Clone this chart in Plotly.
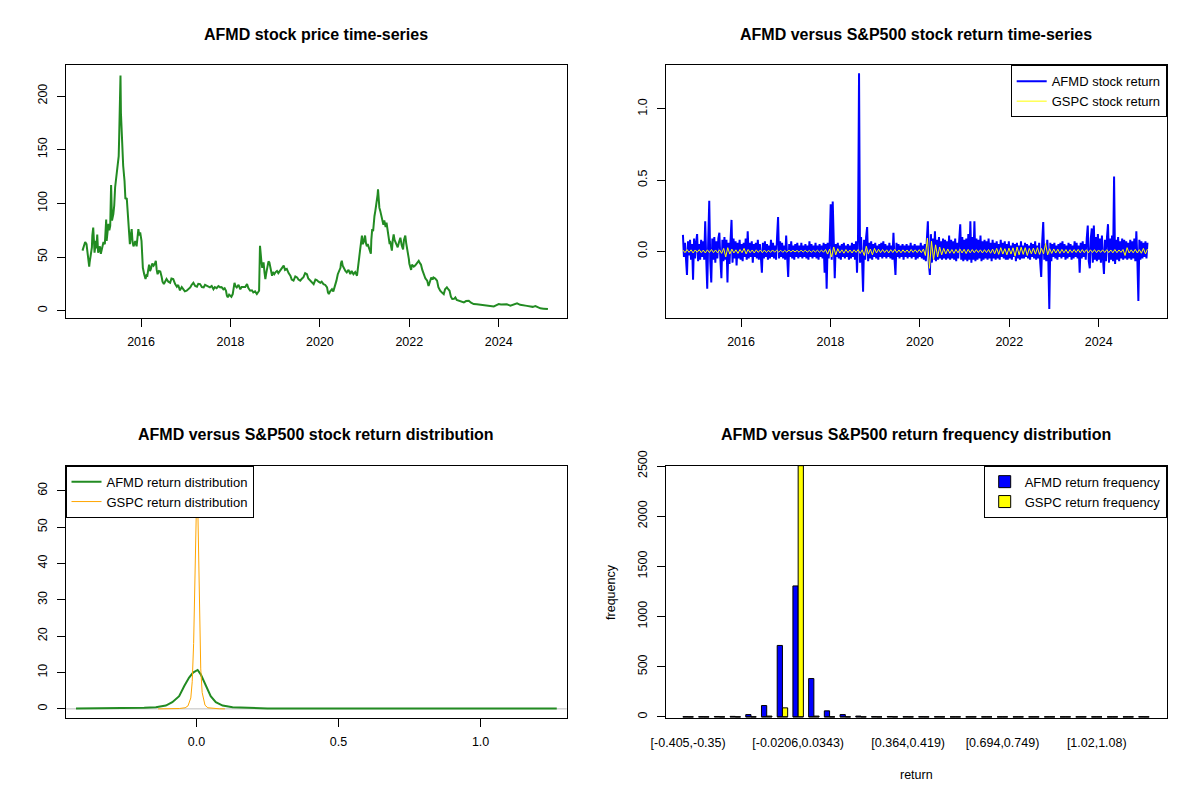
"""
AFMD vs S&P500 dashboard: price, returns, densities and return histogram.
"""
import numpy as np
import plotly.graph_objects as go

# the page keeps the browser's 8px body margin, so the figure is 16px smaller
PAGE_W, PAGE_H, EDGE = 1200, 800, 8
W, H = PAGE_W - 2 * EDGE, PAGE_H - 2 * EDGE
FONT = "Liberation Sans, Arial, sans-serif"

# ---- AFMD closing price (decimal year, USD) ----
price_year = [
    2014.69, 2014.72, 2014.75, 2014.78, 2014.80, 2014.82, 2014.84, 2014.85, 2014.87, 2014.90,
    2014.91, 2014.93, 2014.96, 2014.99, 2015.00, 2015.02, 2015.04, 2015.06, 2015.08, 2015.10,
    2015.12, 2015.14, 2015.16, 2015.19, 2015.22, 2015.23, 2015.25, 2015.27, 2015.29, 2015.31,
    2015.33, 2015.35, 2015.38, 2015.40, 2015.42, 2015.44, 2015.47, 2015.50, 2015.51, 2015.54,
    2015.55, 2015.57, 2015.60, 2015.63, 2015.65, 2015.68, 2015.70, 2015.72, 2015.73, 2015.75,
    2015.77, 2015.79, 2015.81, 2015.83, 2015.85, 2015.87, 2015.90, 2015.92, 2015.94, 2015.96,
    2015.98, 2016.01, 2016.03, 2016.04, 2016.07, 2016.09, 2016.10, 2016.12, 2016.14, 2016.16,
    2016.18, 2016.20, 2016.22, 2016.25, 2016.28, 2016.31, 2016.33, 2016.35, 2016.37, 2016.40,
    2016.43, 2016.46, 2016.48, 2016.51, 2016.54, 2016.57, 2016.61, 2016.65, 2016.68, 2016.72,
    2016.76, 2016.80, 2016.83, 2016.87, 2016.91, 2016.95, 2016.98, 2017.02, 2017.06, 2017.10,
    2017.13, 2017.17, 2017.21, 2017.25, 2017.28, 2017.32, 2017.36, 2017.40, 2017.43, 2017.47,
    2017.50, 2017.54, 2017.58, 2017.62, 2017.65, 2017.69, 2017.73, 2017.77, 2017.80, 2017.84,
    2017.87, 2017.90, 2017.92, 2017.94, 2017.97, 2017.99, 2018.02, 2018.05, 2018.07, 2018.09,
    2018.11, 2018.14, 2018.18, 2018.22, 2018.25, 2018.29, 2018.33, 2018.37, 2018.40, 2018.44,
    2018.48, 2018.51, 2018.55, 2018.59, 2018.62, 2018.64, 2018.66, 2018.67, 2018.69, 2018.71,
    2018.74, 2018.76, 2018.78, 2018.80, 2018.83, 2018.85, 2018.87, 2018.90, 2018.93, 2018.95,
    2018.98, 2019.01, 2019.04, 2019.07, 2019.11, 2019.15, 2019.19, 2019.22, 2019.26, 2019.30,
    2019.34, 2019.37, 2019.41, 2019.45, 2019.49, 2019.52, 2019.56, 2019.60, 2019.63, 2019.67,
    2019.71, 2019.74, 2019.78, 2019.82, 2019.86, 2019.90, 2019.93, 2019.97, 2020.01, 2020.04,
    2020.08, 2020.12, 2020.16, 2020.18, 2020.20, 2020.23, 2020.27, 2020.30, 2020.34, 2020.37,
    2020.40, 2020.43, 2020.46, 2020.47, 2020.49, 2020.51, 2020.54, 2020.57, 2020.60, 2020.64,
    2020.68, 2020.71, 2020.75, 2020.79, 2020.83, 2020.85, 2020.87, 2020.88, 2020.90, 2020.92,
    2020.94, 2020.96, 2020.98, 2021.00, 2021.01, 2021.03, 2021.05, 2021.07, 2021.09, 2021.12,
    2021.14, 2021.15, 2021.17, 2021.19, 2021.20, 2021.22, 2021.24, 2021.26, 2021.28, 2021.29,
    2021.30, 2021.31, 2021.33, 2021.35, 2021.37, 2021.38, 2021.40, 2021.42, 2021.44, 2021.47,
    2021.49, 2021.52, 2021.54, 2021.56, 2021.57, 2021.59, 2021.61, 2021.63, 2021.65, 2021.67,
    2021.69, 2021.71, 2021.74, 2021.77, 2021.80, 2021.83, 2021.86, 2021.88, 2021.91, 2021.93,
    2021.95, 2021.97, 2021.99, 2022.00, 2022.02, 2022.04, 2022.06, 2022.10, 2022.13, 2022.17,
    2022.21, 2022.24, 2022.26, 2022.29, 2022.32, 2022.36, 2022.40, 2022.41, 2022.43, 2022.46,
    2022.49, 2022.52, 2022.54, 2022.58, 2022.62, 2022.65, 2022.69, 2022.73, 2022.77, 2022.80,
    2022.84, 2022.87, 2022.90, 2022.93, 2022.96, 2023.00, 2023.03, 2023.06, 2023.10, 2023.16,
    2023.22, 2023.27, 2023.33, 2023.38, 2023.44, 2023.51, 2023.59, 2023.66, 2023.74, 2023.81,
    2023.89, 2023.95, 2024.00, 2024.05, 2024.11, 2024.18, 2024.26, 2024.33, 2024.41, 2024.48,
    2024.56, 2024.63, 2024.71, 2024.76, 2024.82, 2024.88, 2024.93, 2025.00, 2025.10,
]
price = [
    56, 60, 64, 62, 55, 46.5, 41, 45, 50, 59,
    70, 77.5, 54, 65, 58, 71, 54, 58, 60, 53,
    56, 60, 64, 62, 85, 65, 72, 81, 75, 79,
    117, 84, 90, 98, 115, 124, 130, 144, 161, 219,
    184, 161, 135, 121, 104, 105, 93, 84, 70, 62,
    70, 76, 64, 60, 62, 65, 60, 68, 76, 70,
    73, 65, 50, 40, 34, 31, 29.5, 33, 32.6, 38,
    43, 37, 39, 44, 42, 44, 46.5, 38, 34, 37,
    36.6, 31.6, 27, 24.8, 28, 29.5, 27, 26, 30, 29.5,
    25, 22.3, 24, 19, 22, 20, 18, 18.6, 20, 21.7,
    24, 26, 23, 22.3, 25, 24.8, 22, 21.7, 24, 23,
    22, 21.7, 23, 20, 22, 21, 23, 21.7, 22, 20,
    21, 18.6, 14, 12.4, 15, 14, 13, 15.5, 22, 26,
    23, 21.7, 24, 20, 22, 21.7, 22, 24.8, 21, 18.6,
    19, 17, 18, 15.5, 17, 18.6, 60.5, 52, 46.5, 40,
    45, 36, 29.5, 35, 40, 46, 45, 38, 32.6, 36,
    34, 36, 37, 35, 37, 40, 42, 38, 39, 35,
    32.6, 29, 28, 32, 31, 29, 28, 30, 31, 35,
    34, 30, 28, 27, 24.8, 29, 28.5, 27, 26, 27,
    24.8, 24, 21.7, 17, 15.5, 18, 20, 18, 23, 28,
    34, 37, 40, 44, 46.5, 42, 39, 37, 35.7, 38,
    34, 37, 34, 36, 32.6, 38, 43, 50, 57, 65,
    70, 62, 64, 68, 70, 63, 60, 62, 59, 55,
    53, 66, 76, 74, 82, 88, 93, 98, 102, 108,
    113, 105, 96, 93, 90, 87, 85, 80, 84, 78,
    82, 72, 68, 62, 65, 60, 56, 66, 71, 66,
    64, 62, 59, 64, 68, 61, 57, 66, 70, 63,
    59, 52, 48, 44, 40, 38, 43, 41, 42, 44,
    46.5, 44, 43, 38, 34, 30, 28, 25, 23, 27,
    31, 29, 31, 30, 28, 22, 18.6, 17, 15.5, 20,
    21.7, 20, 18.6, 13, 10.9, 11, 12.4, 10, 9.3, 8.5,
    7.8, 9, 9.3, 7.5, 6.2, 6.0, 5.6, 5.0, 4.7, 4.4,
    4.0, 5.2, 6.2, 5.8, 5.6, 6.0, 4.7, 5.8, 6.8, 5.5,
    4.7, 4.5, 4.0, 3.6, 4.3, 3.0, 2.2, 1.9, 1.5,
]

# ---- returns (percent), sampled evenly between these dates ----
ret_start, ret_end = 2014.70, 2025.09
afmd_ret_pct = [
    11.5, -4, 6, -5, -16.7, 7, -3, 8, -6, 5, -20, 9, -5, 6, 12, -7, 5, -6, 8, -4,
    7, -6, 21, -5, -26.4, 8, 35.5, -7, -22, 9, -6, 10, -8, 7, -5, 9, 13, -6, -19, 8,
    -7, 10, -6, 8, -22, 6, -9, 7, 22, -8, 9, -5, 7, -10, 6, -5, 8, -6, 5, -7,
    6, -4, 9, -6, 14, -5, 6, -4, 7, -8, 5, -4, 6, -5, 8, -6, 5, -4, -15, 6,
    -5, 7, -4, 5, -6, 4, -5, 8, -4, 6, -5, 4, -6, 10, 24, -5, 7, -4, 6, -5,
    4, -6, 11, -4, -18, 5, -4, 7, -5, 4, -6, 5, -4, 6, -5, 4, -4, 6, -5, 4,
    -4, 5, -5, 4, -6, 7, -4, 5, -5, 4, -4, 6, -5, 4, -6, 5, -4, 4, -5, 6,
    -15, 5, -26.4, 6, -5, 7, 33, -6, 35, 8, -19, 5, -4, 6, -5, 4, -6, 5, -4, 6,
    -5, 4, -4, 5, -6, 4, -5, 6, -4, 5, -6, 7, -15, 9, 125, -8, 10, -6, -28.5, 8,
    -6, 10, 17, -7, 6, -5, 7, -6, 5, -4, 6, -5, 4, -6, 5, -4, 6, -5, 7, -4,
    5, -5, 4, -4, 6, -5, 4, -6, 13, -5, -16.7, 6, -4, 5, -5, 4, -4, 5, -6, 4,
    -4, 5, -5, 4, -4, 6, -5, 4, -4, 5, -6, 4, -5, 4, -4, 6, -5, 4, -6, 5,
    -7, 8, 21, -9, -16.7, 12, -8, 9, -6, 14, -7, 8, -6, 10, -5, 7, -6, 9, -5, 8,
    -6, 7, -5, 11, -6, 8, -5, 7, -6, 9, -7, 6, -5, 8, 19, -6, 10, -7, 8, -6,
    9, -7, 12, -6, 21, -8, 10, -6, 21, -7, 9, -6, 8, -5, 11, -7, 7, -6, 8, -5,
    7, -6, 9, -5, 6, -7, 8, -5, 6, -6, 7, -5, 5, -6, 8, -4, 6, -5, 7, -6,
    5, -6, 7, -5, 4, -6, 6, -4, 5, -7, 6, -5, 4, -6, 7, -5, 4, -5, 6, -4,
    5, -5, 4, -6, 6, -4, 5, -5, 7, -6, 4, -5, 6, -8, -18, 7, 20.5, -6, 5, -7,
    8, -5, -40.5, 6, -7, 5, -4, 6, -5, 4, -6, 5, -4, 6, -5, 7, -4, 5, -6, 4,
    -5, 6, -4, 5, -6, 4, -5, 7, -4, 6, -5, 4, -15, 6, -5, 7, -4, 5, -6, 9,
    18, -7, -12, 9, 16, -8, 18, -6, 10, -7, 12, -6, 9, -8, 11, -5, -16, 8, -7, 10,
    19, -8, 9, -6, 11, -7, 52.5, -9, 8, -6, 10, -7, 7, -5, 9, -6, 8, -5, 7, -6,
    6, -5, 8, -6, 7, -5, 9, -7, 14, -6, -35, 8, -6, 7, -5, 6, -4, 7, -5, 6,
]
gspc_ret_pct = [
    0.8, -1.0, 1.2, -0.8, 1.0, -1.2, 0.9, -0.7, 1.1, -1.0,
    0.8, -1.2, 1.0, -0.9, 1.2, -1.0, 0.9, -1.1, 1.0, -1.5,
    2.0, -4.0, 2.5, -2.0, 1.5, -1.2, 1.0, -1.5, 1.2, -1.0,
    2.0, -1.8, 1.2, -1.0, 0.9, -1.2, 1.0, -0.8, 0.9, -1.0,
    0.8, -0.9, 0.7, -0.8, 0.9, -0.7, 0.8, -0.6, 0.7, -0.8,
    0.6, -0.7, 0.8, -0.6, 0.7, -0.5, 0.6, -0.7, 0.8, -0.6,
    0.7, -0.6, 0.5, -0.7, 0.6, -0.5, 0.7, -0.6, 0.8, -0.7,
    1.2, -2.0, 1.5, -4.0, 3.0, -2.5, 1.8, -1.2, 1.0, -1.4,
    1.2, -1.0, 0.9, -1.2, 1.0, -0.8, 1.2, -1.5, 1.0, -3.0,
    3.5, -2.0, 1.5, -2.5, 2.0, -1.2, 1.4, -1.0, 1.2, -0.9,
    1.0, -1.2, 1.1, -0.9, 1.3, -1.0, 0.9, -1.1, 1.0, -0.8,
    0.9, -1.0, 1.2, -0.8, 1.0, -0.9, 1.1, -1.0, 1.5, -3.0,
    9.3, -12.0, 7.0, -6.0, 4.5, -4.0, 3.0, -2.5, 2.0, -1.8,
    1.6, -1.4, 1.2, -1.5, 1.3, -1.1, 1.5, -1.2, 1.4, -1.6,
    1.3, -1.1, 1.2, -1.0, 1.1, -0.9, 1.0, -1.2, 1.1, -1.0,
    1.2, -1.4, 1.5, -1.8, 2.0, -2.2, 2.5, -2.0, 1.8, -2.5,
    2.2, -2.0, 2.4, -3.5, 3.0, -2.5, 2.8, -2.2, 2.5, -3.0,
    2.0, -1.8, 2.2, -2.0, 2.5, -2.2, 2.0, -1.8, 5.5, -2.5,
    1.8, -1.5, 1.6, -1.2, 1.4, -1.5, 1.3, -1.1, 1.2, -1.4,
    1.1, -1.0, 1.2, -0.9, 1.3, -1.1, 1.2, -1.0, 1.1, -1.2,
    1.0, -0.9, 1.1, -1.0, 0.9, -0.8, 1.0, -0.9, 1.1, -1.0,
    0.9, -1.1, 1.2, -1.0, 0.9, -0.8, 1.2, -3.0, 2.5, -1.2,
    1.0, -1.1, 1.3, -1.2, 1.1, -1.4, 2.0, -1.8, 1.5,
]

# ---- kernel density estimates ----
afmd_dens_x = [-0.424, -0.30, -0.184, -0.143, -0.108, -0.085, -0.061, -0.043, -0.026, -0.012,
               0.0, 0.004, 0.015, 0.033, 0.05, 0.068, 0.092, 0.127, 0.174, 0.21,
               0.25, 0.40, 0.60, 0.80, 1.00, 1.20, 1.268]
afmd_dens_y = [0.1, 0.15, 0.3, 0.46, 0.9, 1.85, 3.5, 6.3, 8.6, 10.0,
               10.6, 10.7, 9.5, 6.3, 3.5, 1.85, 0.9, 0.46, 0.28, 0.2,
               0.12, 0.1, 0.08, 0.08, 0.08, 0.08, 0.1]
gspc_dens_x = [-0.135, -0.11, -0.09, -0.06, -0.04, -0.03, -0.02, -0.015, -0.01, -0.007,
               -0.004, -0.002, 0.0, 0.002, 0.004, 0.007, 0.01, 0.015, 0.02, 0.03,
               0.04, 0.06, 0.08, 0.10]
gspc_dens_y = [0.0, 0.02, 0.05, 0.1, 0.3, 0.8, 3.0, 7.5, 18, 30,
               46, 56, 63, 64.3, 58, 42, 27, 11, 4.5, 1.0,
               0.3, 0.08, 0.02, 0.0]

# ---- return frequency table ----
bin_labels = [
    "[-0.405,-0.35)", "[-0.35,-0.295)", "[-0.295,-0.24)", "[-0.24,-0.185)",
    "[-0.185,-0.13)", "[-0.13,-0.0755)", "[-0.0755,-0.0206)", "[-0.0206,0.0343)",
    "[0.0343,0.0892)", "[0.0892,0.144)", "[0.144,0.199)", "[0.199,0.254)",
    "[0.254,0.309)", "[0.309,0.364)", "[0.364,0.419)", "[0.419,0.474)",
    "[0.474,0.529)", "[0.529,0.584)", "[0.584,0.639)", "[0.639,0.694)",
    "[0.694,0.749)", "[0.749,0.804)", "[0.804,0.859)", "[0.859,0.914)",
    "[0.914,0.969)", "[0.969,1.02)", "[1.02,1.08)", "[1.08,1.13)",
    "[1.13,1.19)", "[1.19,1.24]",
]
afmd_freq = [1, 1, 4, 5, 23, 113, 712, 1305, 382, 60,
             23, 8, 2, 4, 1, 1, 1, 0, 0, 0,
             0, 0, 0, 0, 0, 0, 0, 0, 0, 1]
gspc_freq = [0, 0, 0, 0, 0, 8, 90, 2503, 8, 0,
             0, 0, 0, 0, 0, 0, 0, 0, 0, 0,
             0, 0, 0, 0, 0, 0, 0, 0, 0, 0]
shown_bins = [0, 7, 14, 20, 26]


def xdom(left, right):
    return [(left - EDGE) / W, (right - EDGE) / W]


def ydom(top, bottom):
    return [1 - (bottom - EDGE) / H, 1 - (top - EDGE) / H]


def px(x, y):
    return (x - EDGE) / W, 1 - (y - EDGE) / H


def r_axis(**kw):
    ax = dict(
        showline=True, linecolor="black", linewidth=1, mirror=True,
        ticks="outside", ticklen=8, tickcolor="black", tickwidth=1,
        showgrid=False, zeroline=False, automargin=False,
        tickfont=dict(family=FONT, size=12.5, color="black"),
    )
    ax.update(kw)
    return ax


def y_axis(**kw):
    return r_axis(tickangle=-90, ticklabelstandoff=5, **kw)


def x_axis(**kw):
    return r_axis(ticklabelstandoff=4, **kw)


fig = go.Figure()

# top-left: price
fig.add_trace(go.Scatter(
    x=price_year, y=price, mode="lines", line=dict(color="#228B22", width=2),
    showlegend=False, xaxis="x", yaxis="y",
))

# top-right: returns
afmd_ret = np.array(afmd_ret_pct) / 100
gspc_ret = np.array(gspc_ret_pct) / 100
fig.add_trace(go.Scatter(
    x=np.linspace(ret_start, ret_end, len(afmd_ret)), y=afmd_ret, mode="lines",
    line=dict(color="#0000FF", width=2),
    name="AFMD stock return", legend="legend2", xaxis="x2", yaxis="y2",
))
fig.add_trace(go.Scatter(
    x=np.linspace(ret_start, ret_end, len(gspc_ret)), y=gspc_ret, mode="lines",
    line=dict(color="#FFFF00", width=1),
    name="GSPC stock return", legend="legend2", xaxis="x2", yaxis="y2",
))

# bottom-left: densities
fig.add_trace(go.Scatter(
    x=afmd_dens_x, y=afmd_dens_y, mode="lines", line=dict(color="#228B22", width=2),
    name="AFMD return distribution", legend="legend3", xaxis="x3", yaxis="y3",
))
fig.add_trace(go.Scatter(
    x=gspc_dens_x, y=gspc_dens_y, mode="lines", line=dict(color="#FFA500", width=1),
    name="GSPC return distribution", legend="legend3", xaxis="x3", yaxis="y3",
))

# bottom-right: grouped frequency bars
idx = np.arange(len(bin_labels))
fig.add_trace(go.Bar(
    x=idx - 1 / 6, y=afmd_freq, width=1 / 3,
    marker=dict(color="#0000FF", line=dict(color="black", width=1)),
    name="AFMD return frequency", legend="legend4", xaxis="x4", yaxis="y4",
))
fig.add_trace(go.Bar(
    x=idx + 1 / 6, y=gspc_freq, width=1 / 3,
    marker=dict(color="#FFFF00", line=dict(color="black", width=1)),
    name="GSPC return frequency", legend="legend4", xaxis="x4", yaxis="y4",
))
# outlines of empty bars sit on the zero line
dash_x, dash_y = [], []
for i in idx:
    dash_x += [i - 1 / 3, i + 1 / 3, None]
    dash_y += [0, 0, None]
fig.add_trace(go.Scatter(
    x=dash_x, y=dash_y, mode="lines", line=dict(color="black", width=1),
    showlegend=False, hoverinfo="skip", xaxis="x4", yaxis="y4",
))

left_box = (65.5, 566.7)
right_box = (665.5, 1166.7)
top_box = (65.3, 318.3)
bot_box = (465.7, 718.2)

leg = dict(
    bgcolor="white", bordercolor="black", borderwidth=1,
    font=dict(family=FONT, size=13, color="black"),
    tracegroupgap=0, itemclick=False, itemdoubleclick=False,
)

fig.update_layout(
    width=W, height=H, autosize=False,
    margin=dict(l=0, r=0, t=0, b=0, autoexpand=False),
    paper_bgcolor="white", plot_bgcolor="white",
    font=dict(family=FONT, size=12.5, color="black"),
    barmode="overlay",
    xaxis=x_axis(domain=xdom(*left_box), anchor="y", range=[2014.31, 2025.52],
                 tick0=2016, dtick=2),
    yaxis=y_axis(domain=ydom(*top_box), anchor="x", range=[-7.07, 228.6],
                 tick0=0, dtick=50),
    xaxis2=x_axis(domain=xdom(*right_box), anchor="y2", range=[2014.31, 2025.52],
                  tick0=2016, dtick=2),
    yaxis2=y_axis(domain=ydom(*top_box), anchor="x2", range=[-0.471, 1.306],
                  tick0=0, dtick=0.5, tickformat=".1f"),
    xaxis3=x_axis(domain=xdom(*left_box), anchor="y3", range=[-0.461, 1.303],
                  tick0=0, dtick=0.5, tickformat=".1f"),
    yaxis3=y_axis(domain=ydom(*bot_box), anchor="x3", range=[-2.57, 66.9],
                  tick0=0, dtick=10),
    xaxis4=r_axis(domain=xdom(*right_box), anchor="y4", range=[-1.44, 30.45],
                  ticks="", tickmode="array", tickvals=shown_bins,
                  ticktext=[bin_labels[i] for i in shown_bins], ticklabelstandoff=13),
    yaxis4=y_axis(domain=ydom(*bot_box), anchor="x4", range=[-13, 2503],
                  tick0=0, dtick=500),
    legend2=dict(leg, x=px(right_box[1], 0)[0], xanchor="right",
                 y=px(0, top_box[0])[1], yanchor="top"),
    legend3=dict(leg, x=px(left_box[0], 0)[0], xanchor="left",
                 y=px(0, bot_box[0])[1], yanchor="top"),
    legend4=dict(leg, x=px(right_box[1], 0)[0], xanchor="right",
                 y=px(0, bot_box[0])[1], yanchor="top"),
    shapes=[dict(type="line", xref="x3 domain", x0=0, x1=1, yref="y3", y0=0, y1=0,
                 line=dict(color="#BEBEBE", width=1), layer="below")],
)

titles = [
    ("AFMD stock price time-series", sum(left_box) / 2, 35),
    ("AFMD versus S&P500 stock return time-series", sum(right_box) / 2, 35),
    ("AFMD versus S&P500 stock return distribution", sum(left_box) / 2, 435),
    ("AFMD versus S&P500 return frequency distribution", sum(right_box) / 2, 435),
]
for text, xc, yc in titles:
    ax_, ay_ = px(xc, yc)
    fig.add_annotation(
        text="<b>" + text.replace("&", "&amp;") + "</b>", x=ax_, y=ay_,
        xref="paper", yref="paper", showarrow=False, xanchor="center", yanchor="middle",
        font=dict(family=FONT, size=16, color="black"),
    )
fx, fy = px(611, sum(bot_box) / 2)
fig.add_annotation(text="frequency", x=fx, y=fy, xref="paper", yref="paper",
                   showarrow=False, textangle=-90, xanchor="center", yanchor="middle",
                   font=dict(family=FONT, size=12.5, color="black"))
rx, ry = px(sum(right_box) / 2, 775)
fig.add_annotation(text="return", x=rx, y=ry, xref="paper", yref="paper",
                   showarrow=False, xanchor="center", yanchor="middle",
                   font=dict(family=FONT, size=12.5, color="black"))

fig.write_html("out.html", config={"displayModeBar": False})
